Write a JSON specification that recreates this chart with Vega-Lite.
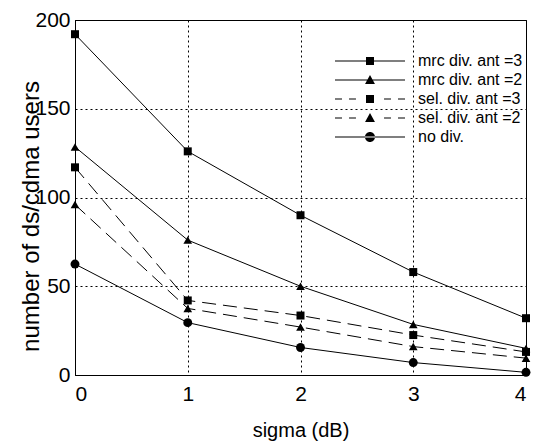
{
  "$schema": "https://vega.github.io/schema/vega-lite/v6.json",
  "width": 451,
  "height": 355,
  "autosize": {"type": "none"},
  "padding": {"left": 75, "top": 20, "right": 13, "bottom": 72},
  "background": "white",
  "config": {
    "font": "Liberation Sans",
    "view": {"stroke": "black", "strokeWidth": 1},
    "axis": {
      "domainColor": "black",
      "grid": true,
      "gridColor": "black",
      "gridDash": [2, 3],
      "gridOpacity": 1,
      "gridWidth": 1,
      "ticks": false,
      "labelColor": "black",
      "titleColor": "black",
      "labelFont": "Liberation Sans",
      "titleFont": "Liberation Sans",
      "labelFontSize": 21,
      "titleFontWeight": "normal"
    }
  },
  "data": {
    "values": [
      {"sigma": 0, "users": 192, "series": "mrc div. ant =3"},
      {"sigma": 1, "users": 126, "series": "mrc div. ant =3"},
      {"sigma": 2, "users": 90, "series": "mrc div. ant =3"},
      {"sigma": 3, "users": 58, "series": "mrc div. ant =3"},
      {"sigma": 4, "users": 32, "series": "mrc div. ant =3"},
      {"sigma": 0, "users": 128.5, "series": "mrc div. ant =2"},
      {"sigma": 1, "users": 76, "series": "mrc div. ant =2"},
      {"sigma": 2, "users": 50, "series": "mrc div. ant =2"},
      {"sigma": 3, "users": 28.5, "series": "mrc div. ant =2"},
      {"sigma": 4, "users": 15, "series": "mrc div. ant =2"},
      {"sigma": 0, "users": 117, "series": "sel. div. ant =3"},
      {"sigma": 1, "users": 42, "series": "sel. div. ant =3"},
      {"sigma": 2, "users": 33.5, "series": "sel. div. ant =3"},
      {"sigma": 3, "users": 22.5, "series": "sel. div. ant =3"},
      {"sigma": 4, "users": 13, "series": "sel. div. ant =3"},
      {"sigma": 0, "users": 96, "series": "sel. div. ant =2"},
      {"sigma": 1, "users": 37.5, "series": "sel. div. ant =2"},
      {"sigma": 2, "users": 27, "series": "sel. div. ant =2"},
      {"sigma": 3, "users": 16, "series": "sel. div. ant =2"},
      {"sigma": 4, "users": 9.5, "series": "sel. div. ant =2"},
      {"sigma": 0, "users": 62.5, "series": "no div."},
      {"sigma": 1, "users": 29.5, "series": "no div."},
      {"sigma": 2, "users": 15.5, "series": "no div."},
      {"sigma": 3, "users": 7, "series": "no div."},
      {"sigma": 4, "users": 1.5, "series": "no div."}
    ]
  },
  "encoding": {
    "x": {
      "field": "sigma",
      "type": "quantitative",
      "scale": {"domain": [0, 4], "nice": false},
      "axis": {
        "values": [0, 1, 2, 3, 4],
        "format": "d",
        "title": "sigma (dB)",
        "titleFontSize": 20,
        "labelPadding": 8,
        "titlePadding": 16
      }
    },
    "y": {
      "field": "users",
      "type": "quantitative",
      "scale": {"domain": [0, 200], "nice": false},
      "axis": {
        "values": [0, 50, 100, 150, 200],
        "title": "number of ds/cdma users",
        "titleFontSize": 24,
        "labelPadding": 5,
        "titleAngle": -90,
        "titleAlign": "center",
        "titleBaseline": "alphabetic",
        "titleX": -37,
        "titleY": 196
      }
    }
  },
  "layer": [
    {
      "transform": [{"filter": {"field": "series", "oneOf": ["mrc div. ant =3", "mrc div. ant =2", "no div."]}}],
      "mark": {"type": "line", "color": "black", "strokeWidth": 1},
      "encoding": {"detail": {"field": "series"}}
    },
    {
      "transform": [{"filter": {"field": "series", "oneOf": ["sel. div. ant =3", "sel. div. ant =2"]}}],
      "mark": {"type": "line", "color": "black", "strokeWidth": 1, "strokeDash": [14, 7]},
      "encoding": {"detail": {"field": "series"}}
    },
    {
      "transform": [{"filter": {"field": "series", "oneOf": ["mrc div. ant =3", "sel. div. ant =3"]}}],
      "mark": {"type": "point", "filled": true, "color": "black", "opacity": 1, "shape": "square", "size": 64}
    },
    {
      "transform": [{"filter": {"field": "series", "oneOf": ["mrc div. ant =2", "sel. div. ant =2"]}}],
      "mark": {"type": "point", "filled": true, "color": "black", "opacity": 1, "shape": "triangle-up", "size": 75}
    },
    {
      "transform": [{"filter": {"field": "series", "equal": "no div."}}],
      "mark": {"type": "point", "filled": true, "color": "black", "opacity": 1, "shape": "circle", "size": 80}
    },
    {
      "transform": [{"filter": "datum.users < 0"}],
      "mark": {"type": "point", "filled": true, "color": "black", "opacity": 1, "size": 324},
      "encoding": {
        "shape": {
          "field": "series",
          "type": "nominal",
          "scale": {
            "domain": ["mrc div. ant =3", "mrc div. ant =2", "sel. div. ant =3", "sel. div. ant =2", "no div."],
            "range": [
              "M-3.89,-0.056H3.89V0.056H-3.89ZM-0.444,-0.444H0.444V0.444H-0.444Z",
              "M-3.89,-0.056H3.89V0.056H-3.89ZM0,-0.55L0.55,0.45L-0.55,0.45Z",
              "M-3.89,-0.056H-3.11V0.056H-3.89ZM-2.33,-0.056H-1.56V0.056H-2.33ZM1.56,-0.056H2.33V0.056H1.56ZM3.11,-0.056H3.89V0.056H3.11ZM-0.444,-0.444H0.444V0.444H-0.444Z",
              "M-3.89,-0.056H-3.11V0.056H-3.89ZM-2.33,-0.056H-1.56V0.056H-2.33ZM1.56,-0.056H2.33V0.056H1.56ZM3.11,-0.056H3.89V0.056H3.11ZM0,-0.55L0.55,0.45L-0.55,0.45Z",
              "M-3.89,-0.056H3.89V0.056H-3.89ZM-0.556,0A0.556,0.556 0 1,0 0.556,0A0.556,0.556 0 1,0 -0.556,0Z"
            ]
          },
          "legend": {
            "title": null,
            "orient": "none",
            "legendX": 286,
            "legendY": 32,
            "padding": 0,
            "symbolSize": 324,
            "symbolStrokeWidth": 0,
            "symbolFillColor": "black",
            "symbolOpacity": 1,
            "labelFontSize": 16,
            "labelColor": "black",
            "labelOffset": 39,
            "rowPadding": 2
          }
        }
      }
    }
  ]
}
